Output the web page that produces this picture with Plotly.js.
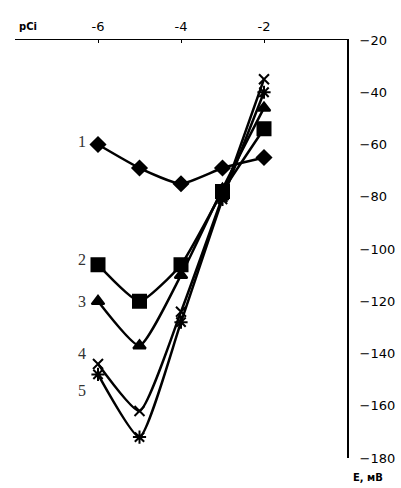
<!DOCTYPE html>
<html>
<head>
<meta charset="utf-8">
<script src="https://cdn.plot.ly/plotly-3.0.1.min.js"></script>
<style>html,body{margin:0;padding:0;background:#fff;}#chart{width:401px;height:488px;}</style>
</head>
<body>
<div id="chart"></div>
<script>
const pCi = [-6, -5, -4, -3, -2];
const series1 = [-60, -69, -75, -69, -65];
const series2 = [-106, -120, -106, -78, -54];
const series3 = [-120, -137, -110, -77, -46];
const series4 = [-144, -162, -124, -80, -35];
const series5 = [-148, -172, -128, -81, -40];
const seriesNames = ['1', '2', '3', '4', '5'];
const labelY = [-59, -104, -120, -140, -154];
const xTickVals = [-8, -6, -4, -2, 0];
const xTickText = ['', '-6', '-4', '-2', ''];
const yTickVals = [-20, -40, -60, -80, -100, -120, -140, -160, -180];

const allSeries = [series1, series2, series3, series4, series5];
const symbols = ['diamond', 'square', 'triangle-up', 'x-thin-open', 'asterisk-open'];
const sizes = [11, 13, 11, 10, 11];

const traces = allSeries.map((ys, i) => ({
  x: pCi, y: ys, name: seriesNames[i], type: 'scatter', mode: 'lines+markers',
  line: {color: '#000', width: 2.5, shape: 'spline', smoothing: 0.5},
  marker: {symbol: symbols[i], size: sizes[i], color: '#000', line: {color: '#000', width: 2}},
  showlegend: false
}));

const annotations = seriesNames.map((n, i) => ({
  x: pCi[0], y: labelY[i], xref: 'x', yref: 'y', text: n, showarrow: false,
  xanchor: 'right', xshift: -10,
  font: {family: 'Liberation Serif, serif', size: 16, color: '#333'}
}));
annotations.push({x: 0.005, y: 1, xref: 'paper', yref: 'paper', yshift: 6, text: '<b>pCi</b>',
  showarrow: false, xanchor: 'left', yanchor: 'bottom', font: {family: 'DejaVu Sans, sans-serif', size: 10, color: '#000'}});
annotations.push({x: 1, y: 0, xref: 'paper', yref: 'paper', xshift: 4, yshift: -12, text: '<b>E, мВ</b>',
  showarrow: false, xanchor: 'left', yanchor: 'top', font: {family: 'DejaVu Sans, sans-serif', size: 10, color: '#000'}});

const layout = {
  width: 401, height: 488,
  margin: {l: 15, r: 54, t: 40, b: 30},
  paper_bgcolor: '#fff', plot_bgcolor: '#fff',
  font: {family: 'DejaVu Sans, sans-serif', size: 12, color: '#000'},
  xaxis: {
    side: 'top', range: [-8, 0], tickvals: xTickVals, ticktext: xTickText,
    showline: true, linecolor: '#000', linewidth: 1.5, ticks: 'inside', ticklen: 3, tickcolor: '#000',
    showgrid: false, zeroline: false, fixedrange: true, ticklabelstandoff: 2,
    tickfont: {family: 'DejaVu Sans, sans-serif', size: 13, color: '#000'}
  },
  yaxis: {
    side: 'right', range: [-180, -20], tickvals: yTickVals,
    showline: true, linecolor: '#000', linewidth: 2, ticks: '', ticklabelstandoff: 8,
    showgrid: false, zeroline: false, fixedrange: true,
    tickfont: {family: 'DejaVu Sans, sans-serif', size: 13, color: '#000'}
  },
  annotations: annotations
};

Plotly.newPlot('chart', traces, layout, {staticPlot: true});
</script>
</body>
</html>
